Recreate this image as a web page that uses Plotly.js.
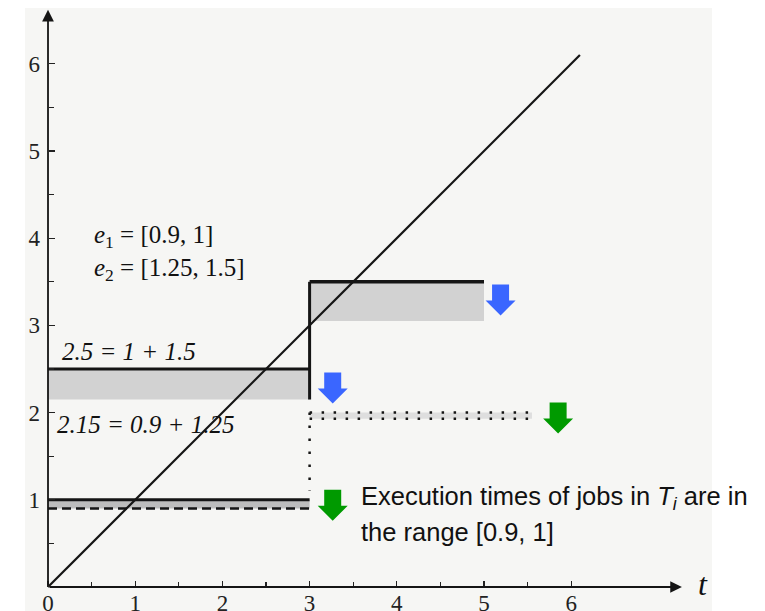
<!DOCTYPE html>
<html>
<head>
<meta charset="utf-8">
<script src="https://cdn.plot.ly/plotly-3.0.1.min.js"></script>
<style>
  html, body { margin: 0; padding: 0; background: #ffffff; }
  #chart { width: 765px; height: 611px; }
</style>
</head>
<body>
<div id="chart"></div>
<script>
// Axis ticks
const xTickVals = [0, 1, 2, 3, 4, 5, 6];
const yTickVals = [1, 2, 3, 4, 5, 6];
const halfTickVals = [0.5, 1.5, 2.5, 3.5, 4.5, 5.5];

// Time line t
const diagT = [0, 6.1];
const diagY = [0, 6.1];

// Execution-time ranges
const e1 = [0.9, 1];
const e2 = [1.25, 1.5];

// Demand in the first window [0, 3]: e1 + e2
const firstWindowT = [0, 3];
const sumRange = [2.15, 2.5];

// Demand in the second window [3, 5]: (e1 + e2) + e1
const secondWindowT = [3, 5];
const laterRange = [3.05, 3.5];

// Demand of T_i jobs alone
const singleRange = [0.9, 1];
const doubleWindowT = [3, 5.55];
const doubleRange = [1.93, 2.0];
const dropLineY = [2.0, 1.1];

// Block arrows: centre t, top value, colour
const arrowX = [5.19, 3.265, 5.85, 3.265];
const arrowTop = [3.47, 2.46, 2.115, 1.115];
const arrowColor = ['#3a66ff', '#3a66ff', '#009a00', '#009a00'];

// Pixel size of one unit on either axis
const PX = 87.2;
const W = 765, H = 611;
const originPx = [48, 587];
const xRange = [-originPx[0] / PX, (W - originPx[0]) / PX];
const yRange = [-(H - originPx[1]) / PX, originPx[1] / PX];

const traces = [];
const bandGray = '#d2d2d2';

function band(tr, yr, color) {
  traces.push({
    x: [tr[0], tr[1], tr[1], tr[0], tr[0]],
    y: [yr[0], yr[0], yr[1], yr[1], yr[0]],
    mode: 'lines', fill: 'toself', fillcolor: color,
    line: { width: 0 }, hoverinfo: 'skip'
  });
}
function seg(xs, ys, width, dash, color) {
  traces.push({
    x: xs, y: ys, mode: 'lines',
    line: { width: width, dash: dash || 'solid', color: color || '#151515' },
    hoverinfo: 'skip'
  });
}

// shaded ranges
band(firstWindowT, sumRange, bandGray);
band(secondWindowT, laterRange, bandGray);
band(firstWindowT, singleRange, '#bdbdbd');
band(doubleWindowT, doubleRange, '#dedede');

// upper bounds of demand
seg([firstWindowT[0], firstWindowT[1]], [sumRange[1], sumRange[1]], 3);
seg([secondWindowT[0], secondWindowT[0]], [sumRange[0], laterRange[1]], 3);
seg([secondWindowT[0], secondWindowT[1]], [laterRange[1], laterRange[1]], 3.5);
seg([firstWindowT[0], firstWindowT[1]], [singleRange[1], singleRange[1]], 3);
seg([firstWindowT[0], firstWindowT[1]], [singleRange[0], singleRange[0]], 2.5, '9px,5px');
seg([doubleWindowT[0], doubleWindowT[1]], [doubleRange[1], doubleRange[1]], 2.5, '2.5px,9.5px');
seg([doubleWindowT[0], doubleWindowT[1]], [doubleRange[0], doubleRange[0]], 2.5, '2.5px,9.5px');
seg([doubleWindowT[0], doubleWindowT[0]], dropLineY, 2.5, '2.5px,10.5px');

// the line y = t
seg(diagT, diagY, 2.2);

// block arrows
const headW = 30 / PX, shaftW = 17 / PX, shaftH = 16 / PX, totalH = 31 / PX;
arrowX.forEach(function (cx, i) {
  const top = arrowTop[i];
  traces.push({
    x: [cx - shaftW / 2, cx + shaftW / 2, cx + shaftW / 2, cx + headW / 2, cx,
        cx - headW / 2, cx - shaftW / 2, cx - shaftW / 2],
    y: [top, top, top - shaftH, top - shaftH, top - totalH,
        top - shaftH, top - shaftH, top],
    mode: 'lines', fill: 'toself', fillcolor: arrowColor[i],
    line: { width: 0 }, hoverinfo: 'skip'
  });
});

const serif = 'Liberation Serif, Times New Roman, serif';
const sans = 'Liberation Sans, Arial, sans-serif';

function label(x, y, text, font, size) {
  return {
    x: x, y: y, xref: 'x', yref: 'y', text: text, showarrow: false,
    xanchor: 'left', yanchor: 'middle',
    font: { family: font, size: size, color: '#111111' }
  };
}

const annotations = [
  // axes with arrow heads
  { x: 0, y: 6.62, ax: 0, ay: 0, xref: 'x', yref: 'y', axref: 'x', ayref: 'y',
    text: '', showarrow: true, arrowhead: 2, arrowsize: 1.3, arrowwidth: 1.8, arrowcolor: '#151515' },
  { x: 7.27, y: 0, ax: 0, ay: 0, xref: 'x', yref: 'y', axref: 'x', ayref: 'y',
    text: '', showarrow: true, arrowhead: 2, arrowsize: 1.3, arrowwidth: 1.8, arrowcolor: '#151515' },
  label(7.43, 0.04, '<i>t</i>', serif, 32),
  label(0.5, 4.02, '<i>e</i><sub>1</sub> = [0.9, 1]', serif, 25),
  label(0.5, 3.64, '<i>e</i><sub>2</sub> = [1.25, 1.5]', serif, 25),
  label(0.14, 2.70, '<i>2.5 = 1 + 1.5</i>', serif, 25),
  label(0.08, 1.86, '<i>2.15 = 0.9 + 1.25</i>', serif, 25),
  label(3.57, 1.02, 'Execution times of jobs in <i>T</i><sub><i>i</i></sub> are in', sans, 25.5),
  label(3.57, 0.63, 'the range [0.9, 1]', sans, 25.5)
];

const layout = {
  width: W, height: H,
  margin: { l: 0, r: 0, t: 0, b: 0 },
  paper_bgcolor: '#ffffff',
  plot_bgcolor: 'rgba(0,0,0,0)',
  showlegend: false,
  xaxis: {
    range: xRange, domain: [0, 1],
    anchor: 'free', position: (H - originPx[1]) / H,
    showgrid: false, zeroline: false, showline: false,
    tickmode: 'array', tickvals: xTickVals, ticktext: xTickVals.map(String),
    ticks: 'inside', ticklen: 6, tickwidth: 1.3, tickcolor: '#222',
    minor: { tickmode: 'array', tickvals: halfTickVals, ticks: 'inside', ticklen: 5, tickwidth: 1.3, tickcolor: '#222' },
    ticklabelstandoff: 0,
    tickfont: { family: serif, size: 23, color: '#222' }
  },
  yaxis: {
    range: yRange, domain: [0, 1],
    anchor: 'free', position: originPx[0] / W,
    showgrid: false, zeroline: false, showline: false,
    tickmode: 'array', tickvals: yTickVals, ticktext: yTickVals.map(String),
    ticks: 'inside', ticklen: 6, tickwidth: 1.3, tickcolor: '#222',
    minor: { tickmode: 'array', tickvals: halfTickVals, ticks: 'inside', ticklen: 5, tickwidth: 1.3, tickcolor: '#222' },
    ticklabelstandoff: 8,
    tickfont: { family: serif, size: 23, color: '#222' }
  },
  shapes: [
    { type: 'rect', xref: 'paper', yref: 'paper', layer: 'below',
      x0: 25 / W, x1: 712 / W, y0: 0, y1: 1 - 8 / H,
      fillcolor: '#f6f6f4', line: { width: 0 } }
  ],
  annotations: annotations
};

Plotly.newPlot('chart', traces, layout, { staticPlot: true, displayModeBar: false });
</script>
</body>
</html>
